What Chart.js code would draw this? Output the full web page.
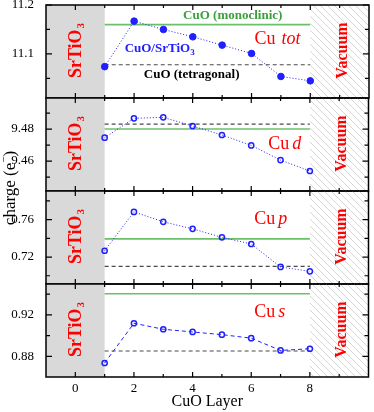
<!DOCTYPE html>
<html>
<head>
<meta charset="utf-8">
<script src="https://cdn.jsdelivr.net/npm/chart.js@4.4.1/dist/chart.umd.min.js"></script>
<style>
  html, body { margin: 0; padding: 0; background: #fff; }
  #wrap { position: relative; width: 374px; height: 412px; }
  #wrap canvas { position: absolute; left: 0; top: 0; }
</style>
</head>
<body>
<div id="wrap">
  <canvas id="c0" width="374" height="412"></canvas>
  <canvas id="c1" width="374" height="412"></canvas>
  <canvas id="c2" width="374" height="412"></canvas>
  <canvas id="c3" width="374" height="412"></canvas>
</div>
<script>
// CuO layer index and charge per layer
const layers = [1, 2, 3, 4, 5, 6, 7, 8];
const cuTot = [11.074, 11.167, 11.150, 11.135, 11.118, 11.101, 11.054, 11.045];
const cuD = [9.4746, 9.4867, 9.4873, 9.4819, 9.4763, 9.4698, 9.4606, 9.4538];
const cuP = [0.7267, 0.7682, 0.7576, 0.7501, 0.7410, 0.7339, 0.7094, 0.7047];
const cuS = [0.8737, 0.9120, 0.9062, 0.9036, 0.9010, 0.8976, 0.8858, 0.8874];

// bulk references (tot, d, p, s)
const monoclinic = [11.160, 9.4800, 0.7394, 0.9404];
const tetragonal = [11.078, 9.4831, 0.7100, 0.8852];

// axes
const yMin = [11.010, 9.4413, 0.6912, 0.8602];
const yMax = [11.200, 9.4994, 0.7905, 0.9498];
const yMajor = [[11.1, 11.2], [9.46, 9.48], [0.72, 0.76], [0.88, 0.92]];
const yMinor = [[11.05, 11.15], [9.45, 9.47, 9.49], [0.70, 0.74, 0.78], [0.90, 0.94]];
const yDecimals = [1, 2, 2, 2];
const xTicks = [0, 2, 4, 6, 8];
const xMinorTicks = [1, 3, 5, 7, 9];
const orbitals = ['tot', 'd', 'p', 's'];
const substrateEnd = 1;
const vacuumStart = 8;

const series = [cuTot, cuD, cuP, cuS];
const frame = [5, 98, 191, 284, 377];
const serif = 'Liberation Serif';
const blue = '#2020ff';

// hatch for the vacuum region
const tile = document.createElement('canvas');
tile.width = 7; tile.height = 7;
const tc = tile.getContext('2d');
tc.strokeStyle = '#cccccc';
tc.lineWidth = 0.8;
tc.beginPath();
tc.moveTo(0, 0); tc.lineTo(7, 7);
tc.moveTo(-1, 6); tc.lineTo(1, 8);
tc.moveTo(6, -1); tc.lineTo(8, 1);
tc.stroke();

function drawParts(ctx, parts, x, y, center) {
  let w = 0;
  parts.forEach(p => { ctx.font = p.font; w += ctx.measureText(p.t).width + (p.gap || 0); });
  let cx = center ? x - w / 2 : x;
  parts.forEach(p => {
    cx += p.gap || 0;
    ctx.font = p.font;
    ctx.fillText(p.t, cx, y + (p.dy || 0));
    cx += ctx.measureText(p.t).width;
  });
}

function rotated(ctx, x, y, fn) {
  ctx.save();
  ctx.translate(x, y);
  ctx.rotate(-Math.PI / 2);
  fn();
  ctx.restore();
}

const panelDecor = {
  id: 'panelDecor',
  beforeDatasetsDraw(chart) {
    const {ctx, chartArea: a, scales: {x}} = chart;
    const xs = x.getPixelForValue(substrateEnd);
    const xv = x.getPixelForValue(vacuumStart);
    ctx.save();
    ctx.fillStyle = '#d9d9d9';
    ctx.fillRect(a.left, a.top, xs - a.left, a.bottom - a.top);
    ctx.fillStyle = ctx.createPattern(tile, 'repeat');
    ctx.fillRect(xv, a.top, a.right - xv, a.bottom - a.top);
    ctx.restore();
  },
  afterDatasetsDraw(chart) {
    const i = chart.options.panel;
    const {ctx, chartArea: a, scales: {x, y}} = chart;
    const midY = (a.top + a.bottom) / 2 - 1;
    ctx.save();
    ctx.textBaseline = 'middle';
    ctx.fillStyle = '#ff0000';
    rotated(ctx, x.getPixelForValue(0) + 1, midY, () => {
      drawParts(ctx, [
        {t: 'SrTiO', font: `bold 18px ${serif}`},
        {t: '3', font: `bold 11px ${serif}`, dy: 5, gap: 1}
      ], 0, 0, true);
    });
    rotated(ctx, x.getPixelForValue(9) + 3, midY, () => {
      drawParts(ctx, [{t: 'Vacuum', font: `bold 16px ${serif}`}], 0, 0, true);
    });

    // orbital label
    const lx = i === 1 ? 6.58 : 6.1;
    const ly = [11.129, 9.4706, 0.7607, 0.9229][i];
    ctx.fillStyle = '#ff0000';
    drawParts(ctx, [
      {t: 'Cu', font: `18px ${serif}`},
      {t: orbitals[i], font: `italic 18px ${serif}`, gap: i === 0 ? 6 : 3}
    ], x.getPixelForValue(lx), y.getPixelForValue(ly), false);

    if (i === 0) {
      ctx.fillStyle = '#3aa03a';
      drawParts(ctx, [{t: 'CuO (monoclinic)', font: `bold 13px ${serif}`}],
        x.getPixelForValue(5.36), y.getPixelForValue(11.178), true);
      ctx.fillStyle = blue;
      drawParts(ctx, [
        {t: 'CuO/SrTiO', font: `bold 13px ${serif}`},
        {t: '3', font: `bold 9px ${serif}`, dy: 4}
      ], x.getPixelForValue(2.87), y.getPixelForValue(11.110), true);
      ctx.fillStyle = '#000';
      drawParts(ctx, [{t: 'CuO (tetragonal)', font: `bold 13px ${serif}`}],
        x.getPixelForValue(3.96), y.getPixelForValue(11.057), true);
    }

    if (i === 3) {
      ctx.fillStyle = '#000';
      rotated(ctx, 11, (frame[0] + frame[4]) / 2 - 3, () => {
        drawParts(ctx, [
          {t: 'charge (e', font: `17px ${serif}`},
          {t: '\u2212', font: `11px ${serif}`, dy: -7},
          {t: ')', font: `17px ${serif}`}
        ], 0, 0, true);
      });
    }

    // ticks pointing inward, and the frame
    ctx.strokeStyle = '#000';
    ctx.lineWidth = 1.2;
    ctx.beginPath();
    const tick = (x0, y0, x1, y1) => { ctx.moveTo(x0, y0); ctx.lineTo(x1, y1); };
    xTicks.forEach(v => {
      const px = x.getPixelForValue(v);
      tick(px, a.top, px, a.top + 5);
      tick(px, a.bottom, px, a.bottom - 5);
    });
    xMinorTicks.forEach(v => {
      const px = x.getPixelForValue(v);
      tick(px, a.top, px, a.top + 3);
      tick(px, a.bottom, px, a.bottom - 3);
    });
    yMajor[i].forEach(v => {
      const py = y.getPixelForValue(v);
      tick(a.left, py, a.left + 6, py);
      tick(a.right, py, a.right - 6, py);
    });
    yMinor[i].forEach(v => {
      const py = y.getPixelForValue(v);
      tick(a.left, py, a.left + 4, py);
      tick(a.right, py, a.right - 4, py);
    });
    ctx.stroke();
    ctx.lineWidth = 1.5;
    ctx.strokeRect(a.left, a.top, a.right - a.left, a.bottom - a.top);
    ctx.restore();
  }
};

function makePanel(i) {
  const last = i === 3;
  return new Chart(document.getElementById('c' + i), {
    type: 'line',
    data: {
      datasets: [
        {
          data: layers.map((v, k) => ({x: v, y: series[i][k]})),
          borderColor: blue,
          borderWidth: 1,
          borderDash: last ? [4, 3] : [1, 2],
          pointRadius: i === 0 ? 3.3 : 2.6,
          pointBackgroundColor: i === 0 ? blue : 'rgba(0,0,0,0)',
          pointBorderColor: blue,
          pointBorderWidth: i === 0 ? 1 : 1.5,
          order: 0
        },
        {
          data: [{x: 1, y: monoclinic[i]}, {x: 8, y: monoclinic[i]}],
          borderColor: '#6cbf6a',
          borderWidth: 1.6,
          pointRadius: 0,
          order: 2
        },
        {
          data: [{x: 1, y: tetragonal[i]}, {x: 8, y: tetragonal[i]}],
          borderColor: '#4a4a4a',
          borderWidth: 1.1,
          borderDash: [4, 3],
          pointRadius: 0,
          order: 1
        }
      ]
    },
    options: {
      panel: i,
      responsive: false,
      animation: false,
      devicePixelRatio: 1,
      layout: { padding: { left: 0, right: 1, top: frame[i], bottom: last ? 0 : 412 - frame[i + 1] } },
      plugins: { legend: { display: false }, tooltip: { enabled: false } },
      scales: {
        x: {
          type: 'linear',
          min: -1,
          max: 10,
          display: last,
          grid: { display: false },
          border: { display: false },
          afterBuildTicks: s => { s.ticks = xTicks.map(v => ({value: v})); },
          afterFit: s => { if (last) s.height = 412 - frame[4]; s.paddingLeft = 0; s.paddingRight = 0; },
          ticks: { font: { family: serif, size: 13 }, color: '#000', padding: -4, maxRotation: 0, autoSkip: false },
          title: { display: true, text: 'CuO Layer', font: { family: serif, size: 16 }, color: '#000', padding: { top: 0, bottom: 1 } }
        },
        y: {
          min: yMin[i],
          max: yMax[i],
          grid: { display: false },
          border: { display: false },
          afterBuildTicks: s => { s.ticks = yMajor[i].map(v => ({value: v})); },
          afterFit: s => { s.width = 46; s.paddingTop = 0; s.paddingBottom = 0; },
          ticks: { callback: v => v.toFixed(yDecimals[i]), font: { family: serif, size: 13 }, color: '#000', padding: 4 }
        }
      }
    },
    plugins: [panelDecor]
  });
}

[0, 1, 2, 3].forEach(makePanel);
</script>
</body>
</html>
